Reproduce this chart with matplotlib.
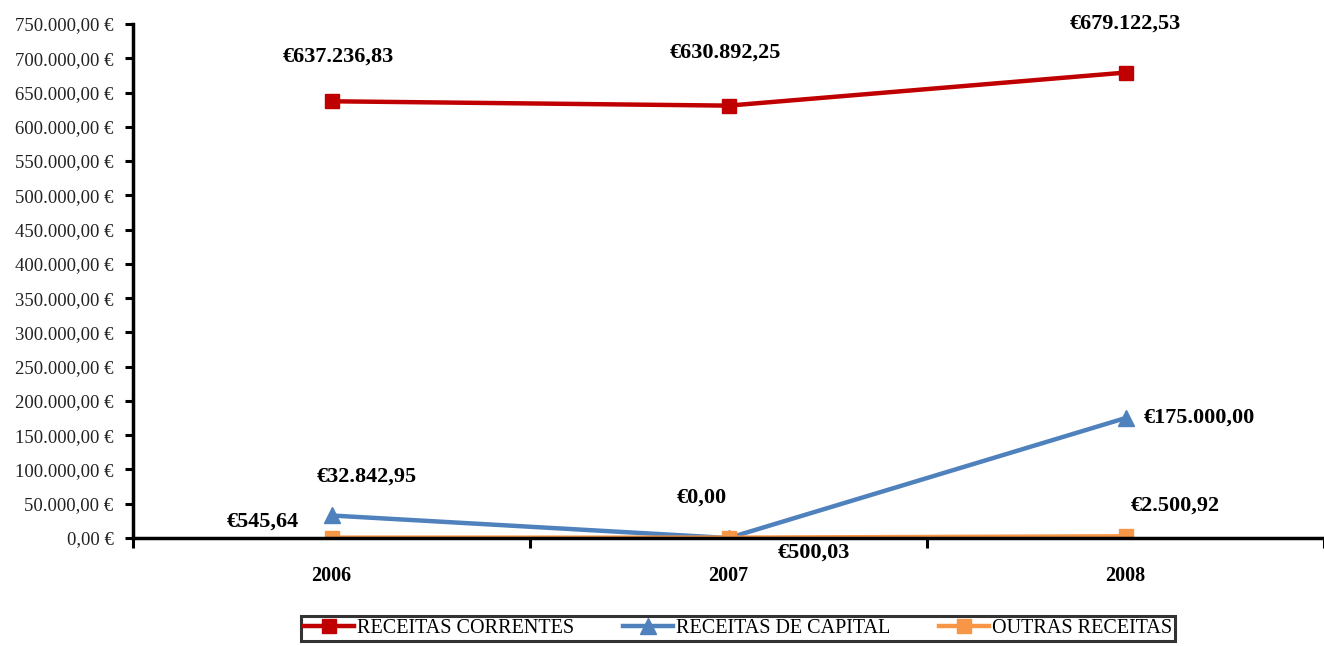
import matplotlib.pyplot as plt
import matplotlib.ticker as ticker

anos = ["2006", "2007", "2008"]
correntes = [637236.83, 630892.25, 679122.53]
capital = [32842.95, 0.0, 175000.00]
outras = [545.64, 500.03, 2500.92]

rotulos_correntes = ["€637.236,83", "€630.892,25", "€679.122,53"]
rotulos_capital = ["€32.842,95", "€0,00", "€175.000,00"]
rotulos_outras = ["€545,64", "€500,03", "€2.500,92"]

plt.rcParams['font.family'] = ['Liberation Serif', 'DejaVu Serif']

def euro(v, pos):
    s = f"{v:,.2f}".replace(",", "X").replace(".", ",").replace("X", ".")
    return s + " €"

fig = plt.figure(figsize=(13.24, 6.46), dpi=100)
ax = fig.add_axes([133/1324, 108/646, 1 - 133/1324, 514/646])

x = list(range(len(anos)))
ax.plot(x, correntes, color="#C00000", lw=3.2, marker="s", ms=10, label="RECEITAS CORRENTES")
ax.plot(x, capital, color="#4F81BD", lw=3.2, marker="^", ms=11, label="RECEITAS DE CAPITAL")
ax.plot(x, outras, color="#F79646", lw=3.2, marker="s", ms=10, label="OUTRAS RECEITAS")

# rotulos (offsets em pixeis)
off_cor = [(7, 45), (-3, 53), (0, 49)]
off_cap = [(35, 39), (-27, 40), (74, 0)]
off_out = [(-69, 16), (85, -15), (50, 31)]
for i in x:
    ax.annotate(rotulos_correntes[i], (i, correntes[i]), xytext=off_cor[i], textcoords="offset pixels",
                ha="center", va="center", fontsize=16, fontweight="bold")
    ax.annotate(rotulos_capital[i], (i, capital[i]), xytext=off_cap[i], textcoords="offset pixels",
                ha="center", va="center", fontsize=16, fontweight="bold")
    ax.annotate(rotulos_outras[i], (i, outras[i]), xytext=off_out[i], textcoords="offset pixels",
                ha="center", va="center", fontsize=16, fontweight="bold")

ax.set_ylim(0, 750000)
ax.set_xlim(-0.5, 2.45)
ax.yaxis.set_major_locator(ticker.MultipleLocator(50000))
ax.yaxis.set_major_formatter(ticker.FuncFormatter(euro))
ax.tick_params(axis="y", labelsize=13.5, width=2.2, length=6, pad=8, color="black", labelcolor="#222222")

ax.set_xticks([-0.5, 0.5, 1.5, 2.5])
ax.set_xticklabels([])
ax.set_xticks(x, minor=True)
ax.set_xticklabels(anos, minor=True, fontweight="bold", fontsize=14.5)
ax.tick_params(axis="x", which="major", direction="out", length=7, width=2.2)
ax.tick_params(axis="x", which="minor", length=0, pad=20)

for s in ["top", "right"]:
    ax.spines[s].set_visible(False)
for s in ["left", "bottom"]:
    ax.spines[s].set_linewidth(2.5)

leg = fig.legend(loc="upper center", bbox_to_anchor=(738/1324, 30/646), ncol=3, frameon=True,
                 fancybox=False, edgecolor="black", fontsize=14.5, handlelength=2.5,
                 columnspacing=2.4, handletextpad=0.15, borderpad=0.15, borderaxespad=0)
leg.get_frame().set_linewidth(2.2)

fig.savefig("out.png", dpi=100)
